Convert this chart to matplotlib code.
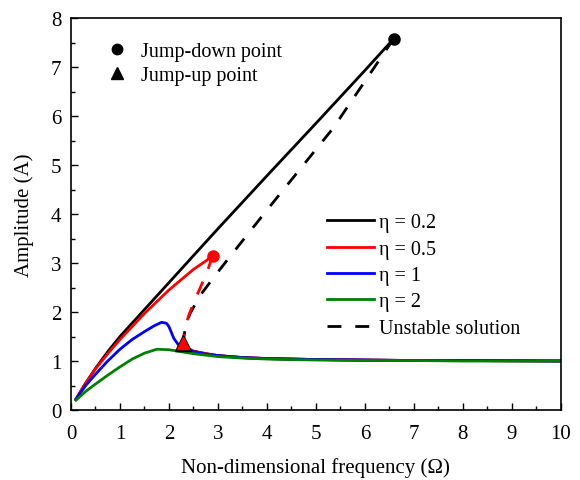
import matplotlib
matplotlib.use('Agg')
import matplotlib.pyplot as plt
from matplotlib.lines import Line2D

plt.rcParams['font.family'] = ['Liberation Serif', 'DejaVu Serif']

# eta = 0.2, upper stable branch
x_02_up = [0.1, 0.3, 0.5, 0.75, 1.0, 1.5, 2.0, 3.0, 4.0, 5.0, 6.0, 6.59]
y_02_up = [0.22, 0.55, 0.85, 1.19, 1.50, 2.05, 2.60, 3.70, 4.78, 5.85, 6.93, 7.58]
# eta = 0.5, upper stable branch
x_05_up = [0.1, 0.3, 0.5, 0.75, 1.0, 1.5, 2.0, 2.5, 2.75, 2.89]
y_05_up = [0.22, 0.55, 0.84, 1.15, 1.44, 1.97, 2.45, 2.87, 3.04, 3.15]
# lower stable branch shared by eta = 0.2 and 0.5
x_low = [2.29, 2.5, 2.75, 3.0, 3.5, 4.0, 5.0, 6.0, 7.0, 8.0, 10.0]
y_low = [1.30, 1.20, 1.15, 1.11, 1.07, 1.05, 1.03, 1.02, 1.01, 1.01, 1.00]
# eta = 1
x_1 = [0.1, 0.3, 0.5, 0.75, 1.0, 1.25, 1.5, 1.7, 1.85, 1.95, 2.0, 2.05, 2.1, 2.2,
       2.3, 2.5, 2.75, 3.0, 3.5, 4.0, 5.0, 6.0, 7.0, 8.0, 10.0]
y_1 = [0.22, 0.50, 0.73, 1.00, 1.24, 1.44, 1.60, 1.72, 1.79, 1.77, 1.70, 1.58, 1.46, 1.32,
       1.27, 1.19, 1.14, 1.11, 1.07, 1.05, 1.03, 1.02, 1.01, 1.01, 1.00]
# eta = 2
x_2 = [0.1, 0.3, 0.5, 0.75, 1.0, 1.25, 1.5, 1.75, 2.0, 2.25, 2.5, 3.0, 3.5, 4.0,
       5.0, 6.0, 7.0, 8.0, 10.0]
y_2 = [0.20, 0.38, 0.53, 0.71, 0.88, 1.04, 1.16, 1.24, 1.23, 1.19, 1.15, 1.09, 1.06, 1.04,
       1.02, 1.01, 1.01, 1.00, 1.00]
# unstable branches
x_02_un = [6.59, 5.35, 4.0, 3.3, 2.97, 2.63, 2.42, 2.33, 2.29]
y_02_un = [7.58, 5.75, 4.08, 3.20, 2.78, 2.33, 1.95, 1.65, 1.40]
x_05_un = [2.89, 2.80, 2.65, 2.50, 2.40, 2.32, 2.29]
y_05_un = [3.15, 2.88, 2.52, 2.18, 1.92, 1.65, 1.40]
# jump points
jump_down_x = [6.59, 2.89]
jump_down_y = [7.58, 3.15]
jump_up_x = [2.29, 2.29]
jump_up_y = [1.36, 1.36]

fig = plt.figure(figsize=(5.8, 4.81), dpi=100)
ax = fig.add_axes([0.1224, 0.1455, 0.8446, 0.815])

lw = 2.0
dash = (0, (5, 5))
ax.plot(x_02_up, y_02_up, color='black', lw=lw)
ax.plot(x_low, y_low, color='black', lw=lw)
ax.plot(x_02_un, y_02_un, color='black', lw=lw, linestyle=dash)
ax.plot(x_05_up, y_05_up, color='red', lw=lw)
ax.plot(x_low, y_low, color='red', lw=lw)
ax.plot(x_05_un, y_05_un, color='red', lw=lw, linestyle=dash)
ax.plot(x_1, y_1, color='blue', lw=lw)
ax.plot(x_2, y_2, color='green', lw=lw)

ax.plot(jump_down_x[0], jump_down_y[0], 'o', color='black', ms=8)
ax.plot(jump_down_x[1], jump_down_y[1], 'o', color='red', ms=8)
ax.plot(jump_up_x[0], jump_up_y[0], '^', color='black', ms=11)
ax.plot(jump_up_x[1], jump_up_y[1], '^', color='red', ms=9)

ax.set_xlim(0, 10)
ax.set_ylim(0, 8)
ax.set_xticks(range(0, 11))
ax.set_yticks(range(0, 9))
ax.set_xticks([i + 0.5 for i in range(10)], minor=True)
ax.set_yticks([i + 0.5 for i in range(8)], minor=True)
ax.tick_params(direction='in', which='major', length=5, width=1, labelsize=15)
ax.tick_params(direction='in', which='minor', length=3, width=1)
ax.tick_params(axis='x', which='major', pad=10)
ax.tick_params(axis='y', which='major', pad=7)
for s in ax.spines.values():
    s.set_linewidth(1.2)

ax.set_xlabel('Non-dimensional frequency (Ω)', fontsize=15, labelpad=10)
ax.set_ylabel('Amplitude (A)', fontsize=15, labelpad=12)

h1 = [Line2D([], [], ls='none', marker='o', color='black', ms=7.5),
      Line2D([], [], ls='none', marker='^', color='black', ms=9)]
leg1 = ax.legend(h1, ['Jump-down point', 'Jump-up point'], loc='upper left',
                 bbox_to_anchor=(0.032, 0.985), frameon=False, fontsize=14.5,
                 handletextpad=0.6, labelspacing=0.25, handlelength=1.2)
ax.add_artist(leg1)

h2 = [Line2D([], [], color='black', lw=lw),
      Line2D([], [], color='red', lw=lw),
      Line2D([], [], color='blue', lw=lw),
      Line2D([], [], color='green', lw=lw),
      Line2D([], [], color='black', lw=lw, linestyle=dash)]
ax.legend(h2, ['η = 0.2', 'η = 0.5', 'η = 1', 'η = 2', 'Unstable solution'],
          loc='upper left', bbox_to_anchor=(0.486, 0.548), frameon=False, fontsize=14.5,
          handlelength=2.33, handletextpad=0.25, labelspacing=0.36)

fig.savefig('out.png', dpi=100)
